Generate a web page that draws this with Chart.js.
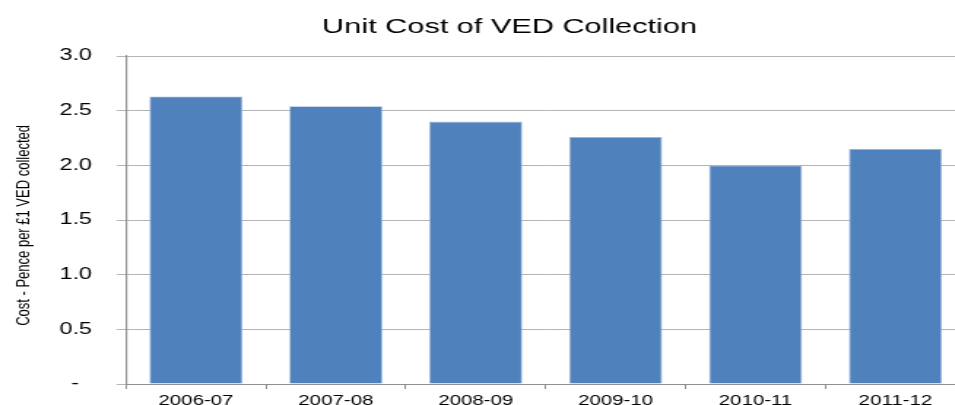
<!DOCTYPE html>
<html>
<head>
<meta charset="utf-8">
<title>Unit Cost of VED Collection</title>
<script src="https://cdn.jsdelivr.net/npm/chart.js@4.4.1/dist/chart.umd.min.js"></script>
<style>
    html, body { margin: 0; padding: 0; background: #fff; overflow: hidden; }
    /* the source picture is stretched sideways, so draw narrow and widen */
    #wrap { width: 700px; height: 405px; transform: scaleX(1.46); transform-origin: 0 0; }
</style>
</head>
<body>
<div id="wrap"><canvas id="costChart" width="700" height="405"></canvas></div>
<script>
// ==================== DATA ====================
const years = ['2006-07', '2007-08', '2008-09', '2009-10', '2010-11', '2011-12'];
const unitCost = [2.63, 2.54, 2.40, 2.26, 2.00, 2.15];
const yTickLabels = ['-\u00a0\u00a0', '0.5', '1.0', '1.5', '2.0', '2.5', '3.0'];

const FONT = "'Liberation Sans', Arial, sans-serif";

// keep the title centred over the whole canvas, not the padded area
const centerTitle = {
    id: 'centerTitle',
    afterLayout(chart) {
        if (chart.titleBlock) {
            chart.titleBlock.left = 0;
            chart.titleBlock.right = 698;
        }
    }
};

new Chart(document.getElementById('costChart'), {
    type: 'bar',
    data: {
        labels: years,
        datasets: [{
            data: unitCost,
            backgroundColor: '#4f81bd',
            borderColor: '#9ab5d9',
            borderWidth: 0.8,
            barPercentage: 0.665,
            categoryPercentage: 1
        }]
    },
    options: {
        responsive: false,
        animation: false,
        devicePixelRatio: 1,
        layout: { padding: { left: 0, right: 38.8, top: 0, bottom: 0 } },
        plugins: {
            legend: { display: false },
            tooltip: { enabled: false },
            title: {
                display: true,
                text: 'Unit Cost of VED Collection',
                color: '#000',
                font: { family: FONT, size: 21, weight: 'normal' },
                padding: { top: 14.4, bottom: 16.4 }
            }
        },
        scales: {
            x: {
                grid: { drawOnChartArea: false, drawTicks: true, tickLength: 5, color: '#8f8f8f' },
                border: { color: '#8f8f8f', width: 1 },
                ticks: { color: '#000', font: { family: FONT, size: 14 }, padding: 3.7, maxRotation: 0 },
                // labels run off the bottom edge, like the source
                afterFit(scale) { scale.height = 21; }
            },
            y: {
                min: 0,
                max: 3,
                grid: { color: '#b4b4b4', lineWidth: 1, tickLength: 6.4 },
                border: { color: '#8f8f8f', width: 1.2 },
                ticks: {
                    stepSize: 0.5,
                    color: '#000',
                    padding: 16.9,
                    font: { family: FONT, size: 16 },
                    callback: (value, index) => yTickLabels[index]
                },
                title: {
                    display: true,
                    text: 'Cost - Pence per £1 VED collected\u00a0\u00a0\u00a0',
                    color: '#000',
                    font: { family: FONT, size: 13 },
                    padding: { top: 8.3, bottom: 0 }
                },
                afterFit(scale) {
                    scale.width = 86.3;
                    scale.paddingBottom = 0;   // tick padding would otherwise lift the plot
                }
            }
        }
    },
    plugins: [centerTitle]
});
</script>
</body>
</html>
